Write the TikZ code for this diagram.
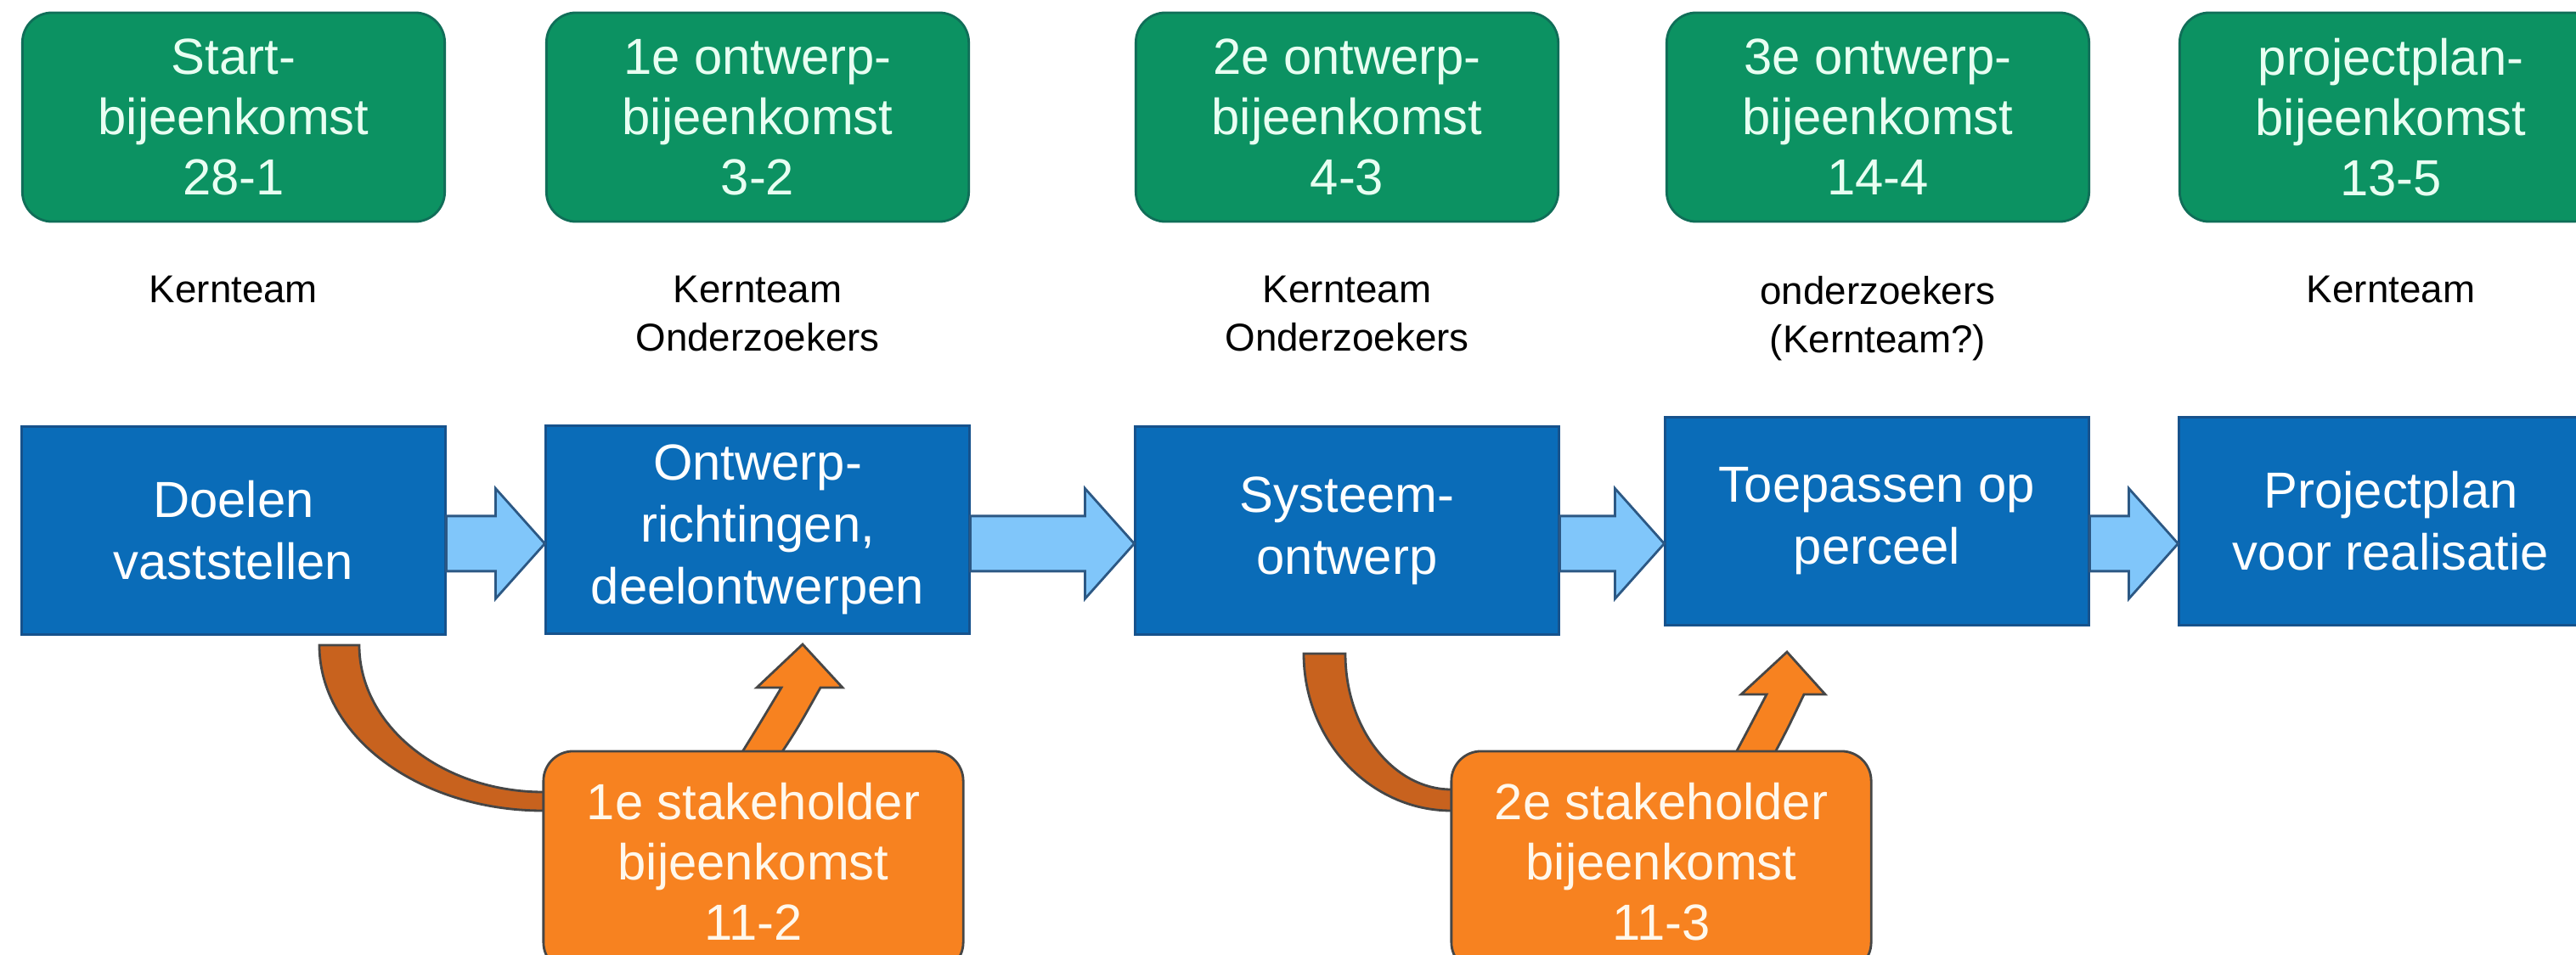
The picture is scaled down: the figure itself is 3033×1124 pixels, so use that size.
\documentclass[tikz,border=0pt]{standalone}
\usepackage{fontspec}
\setmainfont{Liberation Sans}
\usetikzlibrary{calc, positioning}

\definecolor{meetgreen}{RGB}{12,146,98}
\definecolor{meetedge}{RGB}{16,110,88}
\definecolor{phaseblue}{RGB}{10,108,184}
\definecolor{phaseedge}{RGB}{22,82,140}
\definecolor{flowblue}{RGB}{128,198,250}
\definecolor{flowedge}{RGB}{44,88,132}
\definecolor{stakeorange}{RGB}{247,130,32}
\definecolor{stakedark}{RGB}{200,98,30}
\definecolor{stakeedge}{RGB}{70,70,70}
\definecolor{mint}{RGB}{232,255,242}
\definecolor{cream}{RGB}{255,248,236}

\begin{document}
\begin{tikzpicture}[x=0.01cm, y=-0.01cm,
    meet/.style={draw=meetedge, fill=meetgreen, line width=0.8pt, rounded corners=0.35cm,
        minimum width=4.97cm, minimum height=2.46cm, align=center, text=mint,
        font=\fontsize{17}{20.2}\selectfont},
    phase/.style={draw=phaseedge, fill=phaseblue, line width=0.8pt,
        minimum width=4.98cm, minimum height=2.45cm, align=center, text=white,
        font=\fontsize{17}{20.8}\selectfont},
    who/.style={inner sep=0pt, align=center, font=\fontsize{13}{16.2}\selectfont},
    stake/.style={draw=stakeedge, fill=stakeorange, line width=0.8pt, rounded corners=0.35cm,
        minimum width=4.94cm, minimum height=2.6cm, align=center, text=cream,
        font=\fontsize{17}{20.2}\selectfont},
    flow/.style={draw=flowedge, fill=flowblue, line width=0.8pt},
    backband/.style={draw=stakeedge, fill=stakedark, line width=0.8pt},
    lift/.style={draw=stakeedge, fill=stakeorange, line width=0.8pt}]
    \useasboundingbox (0,0) rectangle (3033,1124);

    \node[meet] (g1) at (275,138) {Start-\\bijeenkomst\\28-1};
    \node[meet] (g2) at (892,138) {1e ontwerp-\\bijeenkomst\\3-2};
    \node[meet] (g3) at (1586,138) {2e ontwerp-\\bijeenkomst\\4-3};
    \node[meet] (g4) at (2211,138) {3e ontwerp-\\bijeenkomst\\14-4};
    \node[meet] (g5) at (2815,138) {projectplan-\\bijeenkomst\\13-5};

    \node[who, below=0.62cm of g1] (w1) {Kernteam};
    \node[who, below=0.62cm of g2] (w2) {Kernteam\\Onderzoekers};
    \node[who, below=0.62cm of g3] (w3) {Kernteam\\Onderzoekers};
    \node[who, below=0.62cm of g4] (w4) {onderzoekers\\(Kernteam?)};
    \node[who, below=0.62cm of g5] (w5) {Kernteam};

    \node[phase] (b1) at (275,625) {Doelen\\vaststellen};
    \node[phase] (b2) at (892,624) {Ontwerp-\\richtingen,\\deelontwerpen};
    \node[phase] (b3) at (1586,625) {Systeem-\\ontwerp};
    \node[phase] (b4) at (2210,614) {Toepassen op\\perceel};
    \node[phase] (b5) at (2815,614) {Projectplan\\voor realisatie};

    \foreach \a/\b in {b1/b2, b2/b3, b3/b4, b4/b5}
        \draw[flow] let \p1=(\a.east), \p2=(\b.west) in
            (\x1,-6.075cm) -- ({\x2-0.58cm},-6.075cm) -- ({\x2-0.58cm},-5.75cm)
            -- (\x2,-6.40cm) -- ({\x2-0.58cm},-7.05cm) -- ({\x2-0.58cm},-6.725cm)
            -- (\x1,-6.725cm) -- cycle;

    \draw[backband] (376,760) .. controls (376,868) and (494,955) .. (640,955) -- (690,955)
        -- (690,933) -- (640,933) .. controls (520,933) and (423,855) .. (423,760) -- cycle;
    \draw[backband] (1535,770) .. controls (1535,872) and (1613,955) .. (1709,955) -- (1760,955)
        -- (1760,930) -- (1709,930) .. controls (1640,930) and (1584,858) .. (1584,770) -- cycle;

    \draw[lift] (862,905) .. controls (890,860) .. (920,810) -- (891,810) -- (945,759)
        -- (992,810) -- (966,810) .. controls (938,860) .. (908,905) -- cycle;
    \draw[lift] (2034,905) .. controls (2058,860) .. (2080,818) -- (2050,818) -- (2104,768)
        -- (2149,818) -- (2124,818) .. controls (2104,860) .. (2080,905) -- cycle;

    \node[stake] (s1) at (887,1015) {1e stakeholder\\bijeenkomst\\11-2};
    \node[stake] (s2) at (1956,1015) {2e stakeholder\\bijeenkomst\\11-3};
    %\draw (b1) -- (s1) -- (b2);
    %\draw (b3) -- (s2) -- (b4);
\end{tikzpicture}
\end{document}
